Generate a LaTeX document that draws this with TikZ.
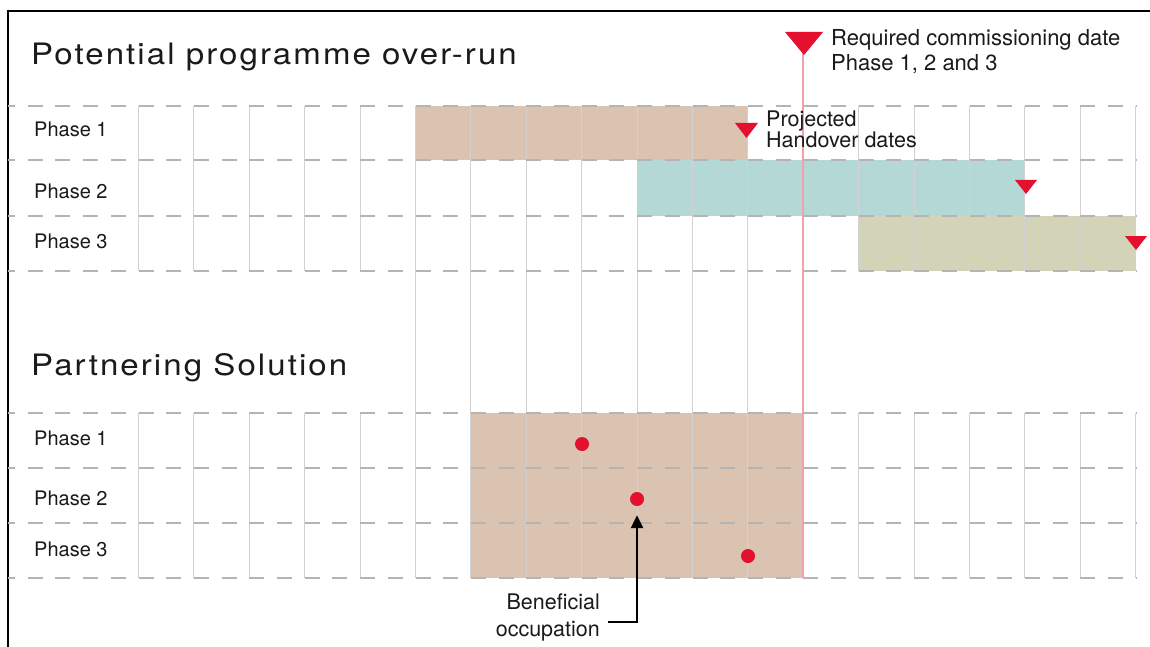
\documentclass[tikz,border=0pt]{standalone}
\usepackage{fontspec}
\setmainfont{TeX Gyre Heros}
\newfontfamily\titlefont[LetterSpace=7,FakeStretch=1.12]{TeX Gyre Heros}
\usetikzlibrary{arrows.meta}
\definecolor{tanbar}{HTML}{DBC3B1}
\definecolor{tealbar}{HTML}{B3D8D6}
\definecolor{olivebar}{HTML}{D3D4B7}
\definecolor{redmark}{HTML}{E3102E}
\definecolor{pinkline}{HTML}{F2A0AC}
\definecolor{dashgray}{HTML}{B4B4B4}
\definecolor{vgray}{HTML}{D2D2D2}
\definecolor{ink}{HTML}{1A1A1A}
\begin{document}
\begin{tikzpicture}[x=1pt,y=-1pt,
  dashgrid/.style={draw=dashgray, line width=1.3pt, dash pattern=on 15pt off 12.7pt, dash phase=8pt},
  vgrid/.style={draw=vgray, line width=0.9pt},
  heading/.style={anchor=base west, inner sep=0pt, text=ink, font=\titlefont\fontsize{29.5}{32}\selectfont},
  phaselabel/.style={anchor=base west, inner sep=0pt, text=ink, font=\fontsize{20}{24}\selectfont},
  note/.style={anchor=base west, inner sep=0pt, text=ink, align=left},
  noteright/.style={anchor=base east, inner sep=0pt, text=ink, align=right},
  dot/.style={circle, fill=redmark, draw=none, minimum size=14pt, inner sep=0pt},
  marker/.style={fill=redmark, draw=none},
  pointer/.style={draw=black, line width=2.3pt, -{Triangle[length=13pt,width=12pt]}}
]
\useasboundingbox (0,0) rectangle (1150,647);
\fill[white] (0,0) rectangle (1150,647);
% frame
\draw[black, line width=1.2pt] (8,647) -- (8,11) -- (1150,11);

% bars
\fill[tanbar]   ({138.5+55.4*5},106) rectangle ({138.5+55.4*11},160);
\fill[tealbar]  ({138.5+55.4*9},160) rectangle ({138.5+55.4*16},216);
\fill[olivebar] ({138.5+55.4*13},216) rectangle ({138.5+55.4*18},271);
\fill[tanbar]   ({138.5+55.4*6},413) rectangle ({138.5+55.4*12},578);

% vertical grid
\foreach \k in {0,1,2,3,4,13,14,15,16,17,18}{
  \draw[vgrid] ({138.5+55.4*\k},106) -- ({138.5+55.4*\k},271);
  \draw[vgrid] ({138.5+55.4*\k},413) -- ({138.5+55.4*\k},578);
}
\foreach \k in {5,6,7,8,9,10,11}{
  \draw[vgrid] ({138.5+55.4*\k},106) -- ({138.5+55.4*\k},578);
}
% dashed horizontal grid
\foreach \y in {106,160,216,271,413,468,523,578}{
  \draw[dashgrid] (8,\y) -- (1137,\y);
}

% required commissioning line
\draw[pinkline, line width=1.4pt] (803,50) -- (803,578);

% triangles
\fill[marker] (785,32) -- (823,32) -- (804,55) -- cycle;
\fill[marker] (735,123) -- (758,123) -- (746.5,138) -- cycle;
\fill[marker] (1015,180) -- (1037,180) -- (1026,194) -- cycle;
\fill[marker] (1125,236) -- (1147,236) -- (1136,250) -- cycle;

% dots
\node[dot] (d1) at (582,444) {};
\node[dot] (d2) at (637,499) {};
\node[dot] (d3) at (748,556) {};

% headings
\node[heading] (h1) at (31,65) {Potential programme over-run};
\node[heading] (h2) at (31,375) {Partnering Solution};

% phase labels
\node[phaselabel] (t1) at (34,137) {Phase 1};
\node[phaselabel] (t2) at (34,198) {Phase 2};
\node[phaselabel] (t3) at (34,248) {Phase 3};
\node[phaselabel] (b1) at (34,445) {Phase 1};
\node[phaselabel] (b2) at (34,505) {Phase 2};
\node[phaselabel] (b3) at (34,556) {Phase 3};

% notes (base anchor = last line's baseline)
\node[note, font=\fontsize{21.5}{18.5}\selectfont] (proj) at (766,148) {Projected\\Handover dates};
\node[note, font=\fontsize{22}{25}\selectfont] (req) at (831,71) {Required commissioning date\\Phase 1, 2 and 3};
\node[noteright, font=\fontsize{21.5}{27}\selectfont] (ben) at (600,636) {Beneficial\\occupation};

% pointer
\coordinate (pstart) at (608,622);
\draw[pointer] (pstart) -| ([yshift=-9pt]d2.south);
\end{tikzpicture}
\end{document}
